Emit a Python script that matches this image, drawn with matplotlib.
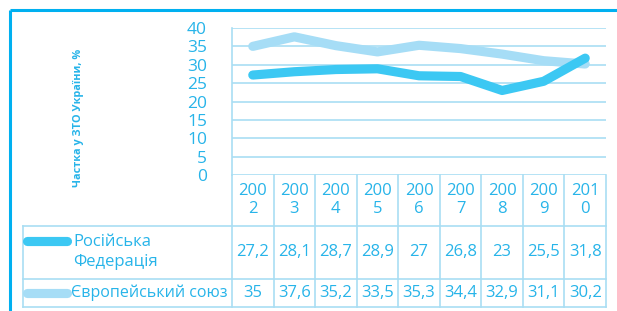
import matplotlib.pyplot as plt
import numpy as np

plt.rcParams['font.family'] = ['Open Sans', 'DejaVu Sans']

years = ["2002", "2003", "2004", "2005", "2006", "2007", "2008", "2009", "2010"]
russia = [27.2, 28.1, 28.7, 28.9, 27, 26.8, 23, 25.5, 31.8]
eu = [35, 37.6, 35.2, 33.5, 35.3, 34.4, 32.9, 31.1, 30.2]
series_names = ["Російська\nФедерація", "Європейський союз"]
y_label = "Частка у ЗТО України, %"

text_c = "#27b4e9"
border_c = "#00b0f0"
grid_c = "#a9def3"
ru_c = "#3cc8f3"
eu_c = "#a6ddf6"

W, H = 617, 311
fig = plt.figure(figsize=(W / 100, H / 100), dpi=100)


def box(x0, y0, x1, y1):
    # pixel box (from top-left) -> figure fraction rect
    return [x0 / W, 1 - y1 / H, (x1 - x0) / W, (y1 - y0) / H]


# outer frame (top and left edges only)
frame = fig.add_axes([0, 0, 1, 1])
frame.set_xlim(0, W)
frame.set_ylim(H, 0)
frame.axis("off")
frame.plot([10, W], [10, 10], color=border_c, lw=2.2, solid_capstyle="butt")
frame.plot([10, 10], [10, H], color=border_c, lw=2.2, solid_capstyle="butt")
frame.text(78, 118, y_label, rotation=90, ha="center", va="center",
           color=text_c, fontsize=7.8, fontweight="bold")

# line chart
x = np.arange(len(years))
ax = fig.add_axes(box(232, 28, 606, 175))
ax.plot(x, eu, color=eu_c, lw=6.6, solid_capstyle="round", solid_joinstyle="round", zorder=3)
ax.plot(x, russia, color=ru_c, lw=6.6, solid_capstyle="round", solid_joinstyle="round", zorder=4)
ax.set_xlim(-0.5, len(years) - 0.5)
ax.set_ylim(0, 40)
ax.set_yticks(np.arange(0, 41, 5))
ax.set_xticks([])
ax.grid(axis="y", color=grid_c, lw=1.2)
ax.set_axisbelow(True)
for s in ["top", "right", "bottom"]:
    ax.spines[s].set_visible(False)
ax.spines["left"].set_color(grid_c)
ax.spines["left"].set_linewidth(1.2)
ax.tick_params(axis="y", length=0, pad=18, labelcolor=text_c, labelsize=12.5)
for lab in ax.get_yticklabels():
    lab.set_horizontalalignment("right")

# data table under the chart, same x scale
col_w = (606 - 232) / len(years)
left_cols = (232 - 23) / col_w
tb = fig.add_axes(box(23, 175, 606, 308))
tb.set_xlim(-0.5 - left_cols, len(years) - 0.5)
tb.set_ylim(133, 0)
tb.axis("off")
row_lines = [51, 104, 132]
for yy in row_lines:
    tb.plot([-0.5 - left_cols, len(years) - 0.5], [yy, yy], color=grid_c, lw=1.2, clip_on=False)
for b in np.arange(len(years) + 1) - 0.5:
    tb.plot([b, b], [0, 132], color=grid_c, lw=1.2, clip_on=False)
tb.plot([-0.5 - left_cols] * 2, [51, 132], color=grid_c, lw=1.2, clip_on=False)

fs = 12
for i, yr in enumerate(years):
    tb.text(i, 25, yr[:3] + "\n" + yr[3:], ha="center", va="center",
            color=text_c, fontsize=fs, linespacing=1.1)
    tb.text(i, 77, f"{russia[i]:g}".replace(".", ","), ha="center", va="center",
            color=text_c, fontsize=fs)
    tb.text(i, 118, f"{eu[i]:g}".replace(".", ","), ha="center", va="center",
            color=text_c, fontsize=fs)

lx0 = -0.5 - left_cols + 4 / col_w
lx1 = lx0 + 40 / col_w
tb.plot([lx0, lx1], [66, 66], color=ru_c, lw=6.6, solid_capstyle="round", clip_on=False)
tb.plot([lx0, lx1], [118, 118], color=eu_c, lw=6.6, solid_capstyle="round", clip_on=False)
tb.text(lx1 + 6 / col_w, 77, series_names[0], ha="left", va="center",
        color=text_c, fontsize=fs, linespacing=1.25)
tb.text(lx1 + 4 / col_w, 118, series_names[1], ha="left", va="center",
        color=text_c, fontsize=fs - 0.5)

fig.savefig("out.png", dpi=100)
